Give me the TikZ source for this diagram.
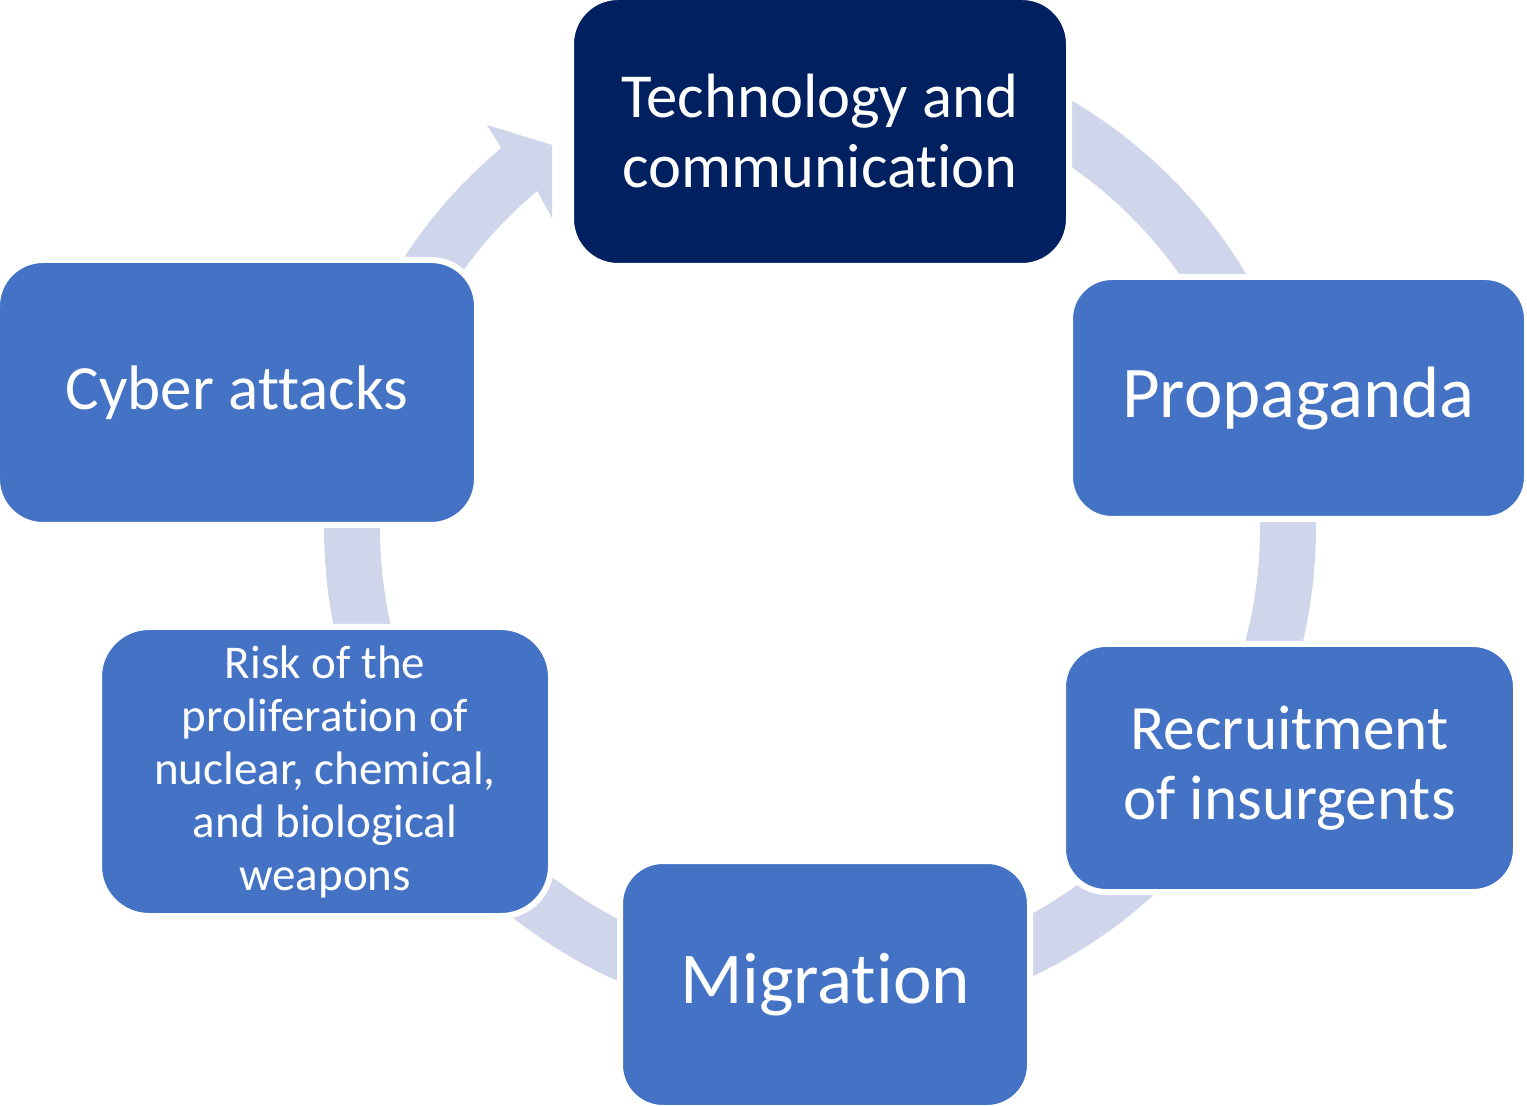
\documentclass[tikz,border=0pt]{standalone}
\usepackage{fontspec}
\setmainfont{Carlito}[Ligatures={NoCommon,NoRare,NoContextual}]
\usetikzlibrary{calc}
\definecolor{navy}{HTML}{002060}
\definecolor{boxblue}{HTML}{4472C4}
\definecolor{ringcol}{HTML}{CFD5EA}
\tikzset{
  box/.style={draw=white, line width=3pt, text=white, align=center, inner sep=0pt, fill=boxblue},
  darkbox/.style={box, fill=navy},
  ringshape/.style={fill=ringcol}
}
\begin{document}
\begin{tikzpicture}[x=0.5pt,y=-0.5pt]
\useasboundingbox (0,0) rectangle (1527,1106);
\coordinate (C) at (820,528);
\coordinate (innerbarb) at (552,218);
\coordinate (tip) at (552,145);
\coordinate (outerbarb) at (487,125);
% ring with arrow head
\fill[ringshape] ($(C)+(-130:496)$) arc[start angle=-130, end angle=-450, radius=496]
  -- ($(C)+(-90:440)$) arc[start angle=-90, end angle=230, radius=440]
  -- (innerbarb) -- (tip) -- (outerbarb) -- cycle;
% boxes
\node[darkbox, rounded corners=23.5pt, minimum width=249pt, minimum height=134.5pt,
  font=\fontsize{31.3}{35}\selectfont] (tech) at (820,131.5) {Technology and\\communication};
\node[box, rounded corners=21pt, minimum width=228.5pt, minimum height=121pt,
  font=\fontsize{36.4}{40}\selectfont] (prop) at (1298.5,398) {Propaganda};
\node[box, rounded corners=21.5pt, minimum width=226.5pt, minimum height=124pt,
  font=\fontsize{31.6}{35}\selectfont] (recr) at (1289.5,768) {Recruitment\\of insurgents};
\node[box, rounded corners=21.5pt, minimum width=205pt, minimum height=123.5pt,
  font=\fontsize{36.5}{40}\selectfont] (migr) at (825,984.5) {Migration};
\node[box, rounded corners=25pt, minimum width=226pt, minimum height=144.5pt,
  font=\fontsize{23.5}{26.5}\selectfont] (risk) at (325,771.5) {Risk of the\\proliferation of\\nuclear, chemical,\\and biological\\weapons};
\node[box, rounded corners=23pt, minimum width=240pt, minimum height=132.5pt,
  font=\fontsize{31.5}{35}\selectfont] (cyber) at (237,392.5) {Cyber attacks};
\end{tikzpicture}
\end{document}
